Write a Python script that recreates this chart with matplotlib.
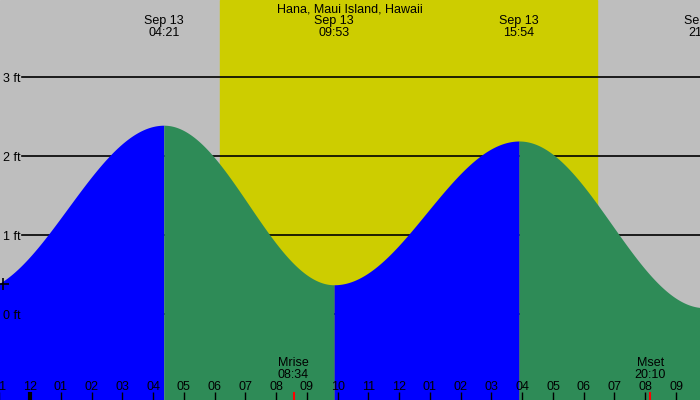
import numpy as np
import matplotlib
matplotlib.use('Agg')
import matplotlib.pyplot as plt
import matplotlib.transforms as mtransforms

plt.rcParams['font.family'] = ['Liberation Sans', 'DejaVu Sans']

# Tide extremes (hours from midnight Sep 13; negative = Sep 12)
ext_hours = [-1.9, 4.35, 9.883, 15.9, 21.917]
ext_heights = [0.28, 2.39, 0.37, 2.19, 0.08]
ext_labels = ['22:06', '04:21', '09:53', '15:54', '21:55']
ext_dates = ['Sep 12', 'Sep 13', 'Sep 13', 'Sep 13', 'Sep 13']

sunrise, sunset = 6.18, 18.43
moon_events = [('Mrise', '08:34', 8.567), ('Mset', '20:10', 20.167)]

hour_ticks = list(range(-1, 22))
ft_levels = [0, 1, 2, 3]

C_NIGHT = '#BEBEBE'
C_DAY = '#CDCD00'
C_RISE = '#0000FF'
C_FALL = '#2E8B57'

X0, X1 = -0.975, 21.78
Y0, Y1 = -1.089, 3.975

fig = plt.figure(figsize=(7, 4), dpi=100)
ax = fig.add_axes([0, 0, 1, 1])
ax.set_xlim(X0, X1)
ax.set_ylim(Y0, Y1)
ax.axis('off')

# background: night / day
ax.axvspan(X0, X1, color=C_NIGHT, zorder=0)
ax.axvspan(sunrise, sunset, color=C_DAY, zorder=1)

# height grid lines (under the water)
for lv in ft_levels:
    ax.axhline(lv, xmin=22 / 700, xmax=1, color='black', lw=1.2, zorder=2)

# tide curve, cosine between extremes
for i in range(len(ext_hours) - 1):
    t0, t1 = ext_hours[i], ext_hours[i + 1]
    h0, h1 = ext_heights[i], ext_heights[i + 1]
    t = np.linspace(t0, t1, 200)
    h = h0 + (h1 - h0) * (1 - np.cos(np.pi * (t - t0) / (t1 - t0))) / 2
    col = C_RISE if h1 > h0 else C_FALL
    ax.fill_between(t, Y0, h, color=col, lw=0, zorder=3)

# height labels
for lv in ft_levels:
    ax.text(-0.88, lv - 0.025, f'{lv} ft', fontsize=9, ha='left', va='center', zorder=5)
ax.plot([-0.87], [0.38], marker='+', color='black', ms=9, mew=1.2, zorder=5, clip_on=False)

trans = mtransforms.blended_transform_factory(ax.transData, ax.transAxes)

# title and extreme labels
ax.text(0.5, 0.975, 'Hana, Maui Island, Hawaii', transform=ax.transAxes,
        ha='center', va='center', fontsize=9, zorder=6)
for t, d, lab in zip(ext_hours, ext_dates, ext_labels):
    if t < X0:
        continue
    ax.text(t, 0.948, d, transform=trans, ha='center', va='center', fontsize=9, zorder=6)
    ax.text(t, 0.918, lab, transform=trans, ha='center', va='center', fontsize=9, zorder=6)

# hour ticks
for hr in hour_ticks:
    lw = 3 if hr == 0 else 1
    ax.plot([hr, hr], [0, 0.02], transform=trans, color='black', lw=lw, zorder=6,
            solid_capstyle='butt')
    lab = f'{(hr % 12) or 12:02d}'
    ax.text(hr, 0.033, lab, transform=trans, ha='center', va='center', fontsize=9, zorder=6)

# moon rise / set
for name, tm, t in moon_events:
    ax.plot([t, t], [0, 0.02], transform=trans, color='red', lw=1.5, zorder=6,
            solid_capstyle='butt')
    ax.text(t, 0.092, name, transform=trans, ha='center', va='center', fontsize=9, zorder=6)
    ax.text(t, 0.062, tm, transform=trans, ha='center', va='center', fontsize=9, zorder=6)

fig.savefig('out.png', dpi=100)
